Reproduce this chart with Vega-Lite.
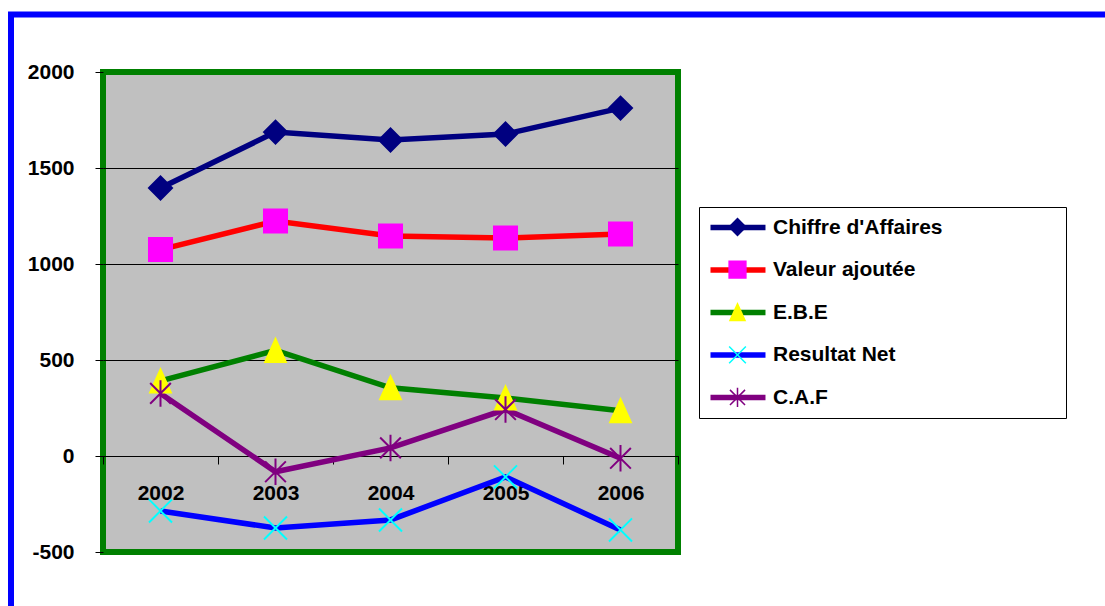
{
  "$schema": "https://vega.github.io/schema/vega-lite/v6.json",
  "autosize": "none",
  "padding": {"left": 103, "top": 72, "right": 427, "bottom": 54},
  "width": 575,
  "height": 480,
  "background": "#FFFFFF",
  "config": {
    "view": {"fill": "#C0C0C0", "stroke": "#008000", "strokeWidth": 6},
    "font": "Liberation Sans"
  },
  "data": {
    "values": [
      {"year": "2002", "series": "Chiffre d'Affaires", "value": 1396},
      {"year": "2003", "series": "Chiffre d'Affaires", "value": 1687},
      {"year": "2004", "series": "Chiffre d'Affaires", "value": 1646},
      {"year": "2005", "series": "Chiffre d'Affaires", "value": 1677},
      {"year": "2006", "series": "Chiffre d'Affaires", "value": 1812},
      {"year": "2002", "series": "Valeur ajoutée", "value": 1075},
      {"year": "2003", "series": "Valeur ajoutée", "value": 1224},
      {"year": "2004", "series": "Valeur ajoutée", "value": 1146},
      {"year": "2005", "series": "Valeur ajoutée", "value": 1135},
      {"year": "2006", "series": "Valeur ajoutée", "value": 1156},
      {"year": "2002", "series": "E.B.E", "value": 391},
      {"year": "2003", "series": "E.B.E", "value": 550},
      {"year": "2004", "series": "E.B.E", "value": 355},
      {"year": "2005", "series": "E.B.E", "value": 302},
      {"year": "2006", "series": "E.B.E", "value": 236},
      {"year": "2002", "series": "Resultat Net", "value": -286},
      {"year": "2003", "series": "Resultat Net", "value": -375},
      {"year": "2004", "series": "Resultat Net", "value": -333},
      {"year": "2005", "series": "Resultat Net", "value": -109},
      {"year": "2006", "series": "Resultat Net", "value": -385},
      {"year": "2002", "series": "C.A.F", "value": 326},
      {"year": "2003", "series": "C.A.F", "value": -82},
      {"year": "2004", "series": "C.A.F", "value": 42},
      {"year": "2005", "series": "C.A.F", "value": 242},
      {"year": "2006", "series": "C.A.F", "value": -12}
    ]
  },
  "layer": [
    {
      "data": {"values": [{}]},
      "mark": {"type": "rect", "fillOpacity": 0, "stroke": "#0000FF", "strokeWidth": 6},
      "encoding": {
        "x": {"value": -92},
        "x2": {"value": 1100},
        "y": {"value": -57.5},
        "y2": {"value": 600}
      }
    },
    {
      "mark": {"type": "line", "strokeWidth": 5.5},
      "encoding": {
        "x": {
          "field": "year", "type": "ordinal",
          "scale": {"type": "band", "paddingInner": 0, "paddingOuter": 0},
          "axis": {
            "title": null, "orient": "bottom", "offset": -96, "tickBand": "extent",
            "tickSize": 8, "tickColor": "#000000", "tickWidth": 1,
            "domainColor": "#000000", "domainWidth": 1,
            "labelAngle": 0, "labelPadding": 18, "labelFontSize": 21, "labelFontWeight": "bold",
            "labelColor": "#000000", "labelFont": "Liberation Sans", "grid": false
          }
        },
        "y": {
          "field": "value", "type": "quantitative",
          "scale": {"domain": [-500, 2000], "nice": false, "zero": false},
          "axis": {
            "title": null, "values": [-500, 0, 500, 1000, 1500, 2000],
            "labelExpr": "'' + datum.value",
            "tickSize": 8, "tickColor": "#000000", "tickWidth": 1, "domain": false,
            "labelPadding": 21, "labelFontSize": 21, "labelFontWeight": "bold",
            "labelColor": "#000000", "labelFont": "Liberation Sans",
            "grid": true, "gridColor": "#000000", "gridWidth": 1,
            "gridOpacity": {"condition": {"test": "datum.value === 2000 || datum.value === -500", "value": 0}, "value": 1}
          }
        },
        "color": {
          "field": "series", "type": "nominal",
          "scale": {
            "domain": ["Chiffre d'Affaires", "Valeur ajoutée", "E.B.E", "Resultat Net", "C.A.F"],
            "range": ["#000080", "#FF0000", "#008000", "#0000FF", "#800080"]
          },
          "legend": {
            "title": " ", "titleOrient": "right", "titleFontSize": 1, "titlePadding": 114,
            "orient": "none", "legendX": 596, "legendY": 135, "padding": 9,
            "strokeColor": "#000000", "fillColor": "#FFFFFF",
            "symbolType": "M-1.06,0L5.41,0", "symbolSize": 289, "symbolStrokeWidth": 5.5,
            "labelFont": "Liberation Sans", "labelFontSize": 21, "labelFontWeight": "bold",
            "labelColor": "#000000", "labelOffset": 42, "labelLimit": 400, "rowPadding": 19.5
          }
        }
      }
    },
    {
      "mark": {"type": "point", "filled": true, "size": 530, "strokeWidth": 2, "opacity": 1},
      "encoding": {
        "x": {"field": "year", "type": "ordinal"},
        "y": {"field": "value", "type": "quantitative"},
        "shape": {
          "field": "series", "type": "nominal", "sort": null,
          "scale": {"range": ["diamond", "square", "M0,-1L-0.9,1L0.9,1Z", "M-1,-1L1,1M-1,1L1,-1", "M-0.9,-0.9L0.9,0.9M-0.9,0.9L0.9,-0.9M0,-1.15L0,1.15"]},
          "legend": {
            "title": null, "orient": "none", "legendX": 616, "legendY": 136.5, "padding": 9,
            "symbolSize": 280, "symbolStrokeWidth": 1.5, "labelExpr": "''", "gridAlign": "all",
            "rowPadding": 15.6
          }
        },
        "fill": {
          "field": "series", "type": "nominal", "sort": null,
          "scale": {"range": ["#000080", "#FF00FF", "#FFFF00", "#00FFFF", "#800080"]},
          "legend": {
            "title": null, "orient": "none", "legendX": 616, "legendY": 136.5, "padding": 9,
            "symbolSize": 280, "symbolStrokeWidth": 1.5, "labelExpr": "''", "gridAlign": "all",
            "rowPadding": 15.6
          }
        },
        "stroke": {
          "field": "series", "type": "nominal", "sort": null,
          "scale": {"range": ["#000080", "#FF00FF", "#FFFF00", "#00FFFF", "#800080"]},
          "legend": {
            "title": null, "orient": "none", "legendX": 616, "legendY": 136.5, "padding": 9,
            "symbolSize": 280, "symbolStrokeWidth": 1.5, "labelExpr": "''", "gridAlign": "all",
            "rowPadding": 15.6
          }
        }
      }
    }
  ]
}
